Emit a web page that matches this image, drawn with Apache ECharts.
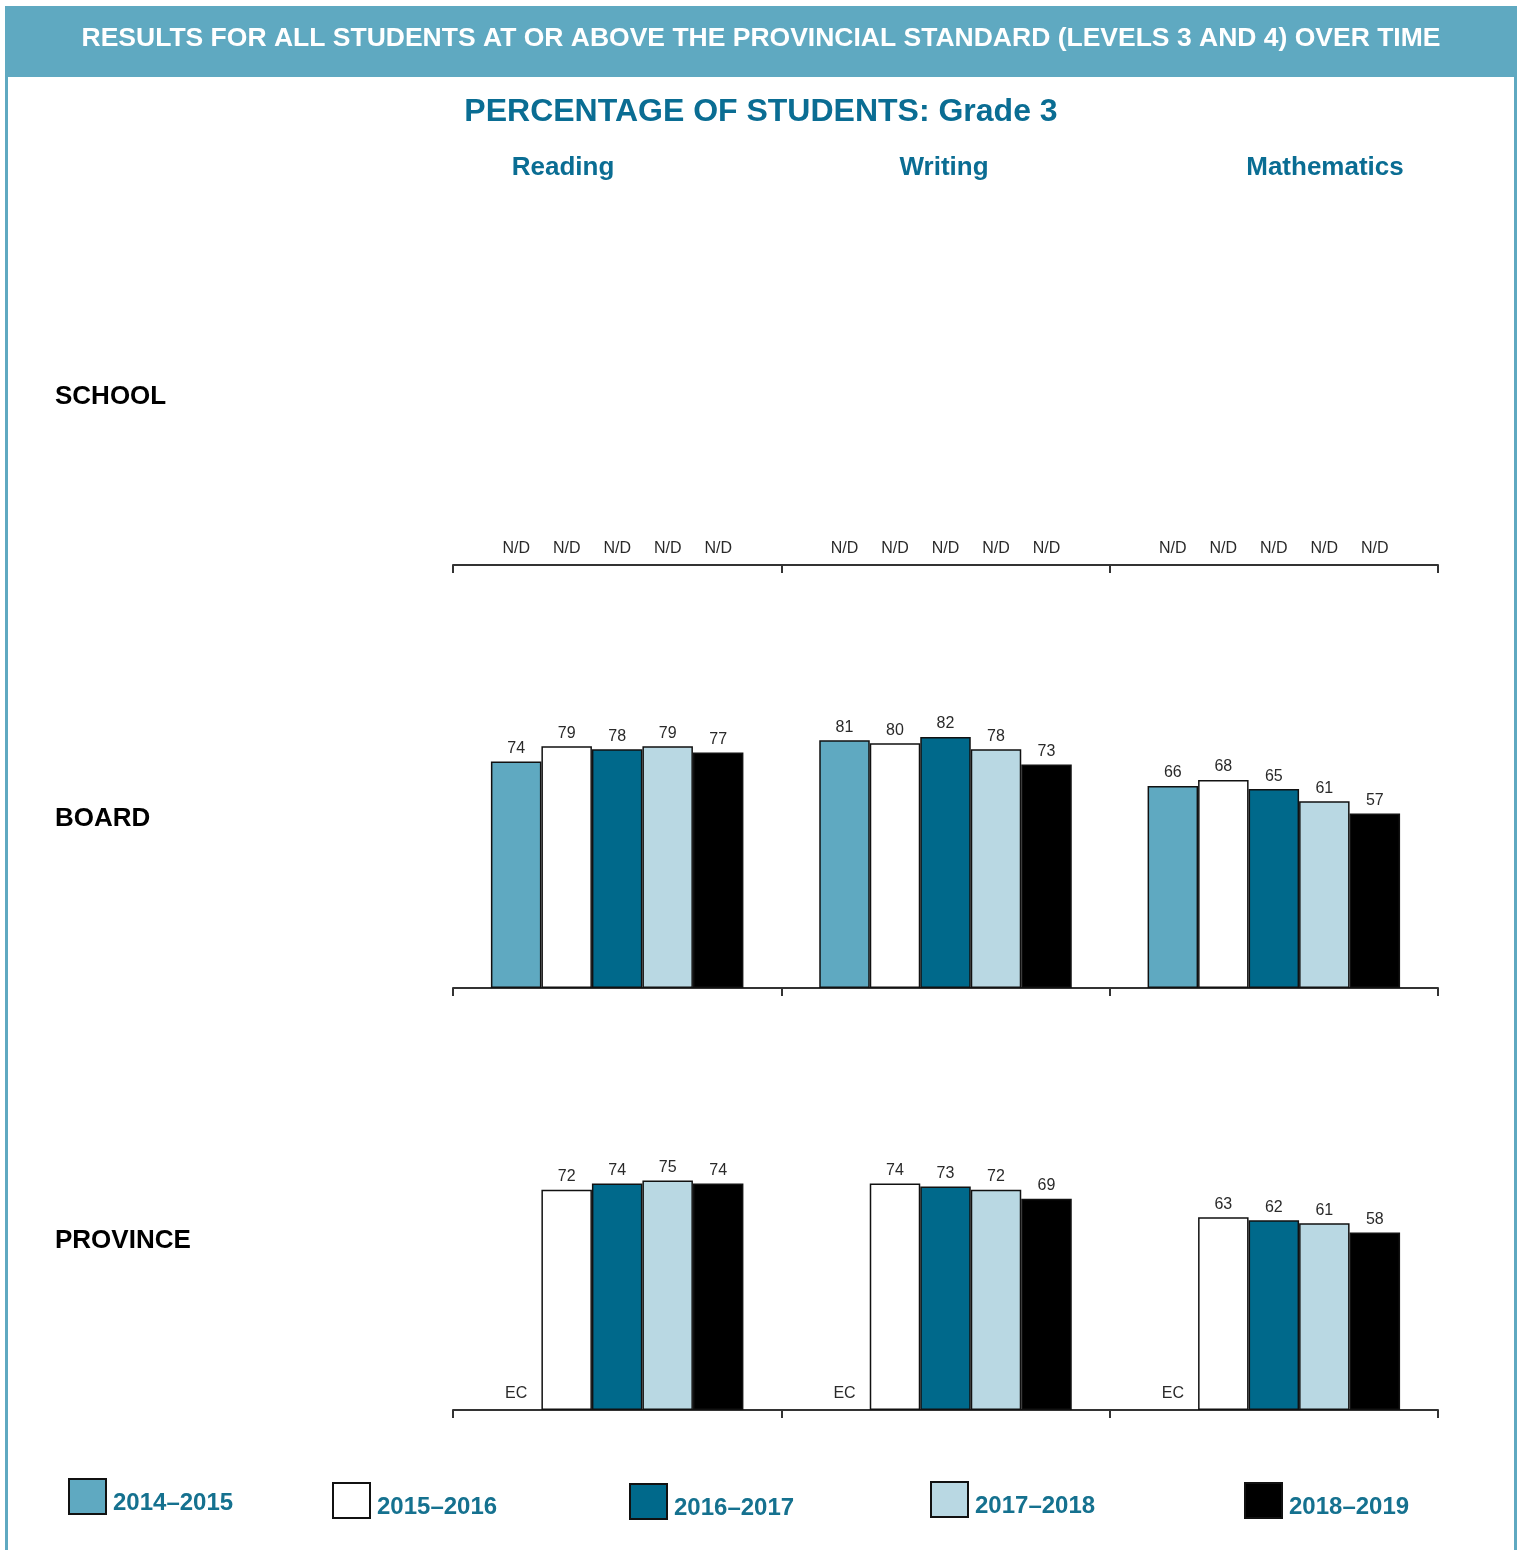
<!DOCTYPE html>
<html>
<head>
<meta charset="utf-8">
<script src="https://cdn.jsdelivr.net/npm/echarts@6/dist/echarts.min.js"></script>
<style>
  html, body { margin: 0; padding: 0; background: #fff; }
  #chart { width: 1526px; height: 1550px; }
</style>
</head>
<body>
<div id="chart"></div>
<script>
const headerText = 'RESULTS FOR ALL STUDENTS AT OR ABOVE THE PROVINCIAL STANDARD (LEVELS 3 AND 4) OVER TIME';
const chartTitle = 'PERCENTAGE OF STUDENTS: Grade 3';
const years = ['2014–2015', '2015–2016', '2016–2017', '2017–2018', '2018–2019'];
const subjects = ['Reading', 'Writing', 'Mathematics'];
const rowLabels = ['SCHOOL', 'BOARD', 'PROVINCE'];

const schoolReading = ['N/D', 'N/D', 'N/D', 'N/D', 'N/D'];
const schoolWriting = ['N/D', 'N/D', 'N/D', 'N/D', 'N/D'];
const schoolMath = ['N/D', 'N/D', 'N/D', 'N/D', 'N/D'];

const boardReading = [74, 79, 78, 79, 77];
const boardWriting = [81, 80, 82, 78, 73];
const boardMath = [66, 68, 65, 61, 57];

const provinceReading = ['EC', 72, 74, 75, 74];
const provinceWriting = ['EC', 74, 73, 72, 69];
const provinceMath = ['EC', 63, 62, 61, 58];

const yearColors = ['#5fa9c1', '#ffffff', '#00698b', '#b9d8e3', '#000000'];
const titleBlue = '#0a6d93';
const FONT = 'Arial, "Liberation Sans", sans-serif';

const rows = [
  [schoolReading, schoolWriting, schoolMath],
  [boardReading, boardWriting, boardMath],
  [provinceReading, provinceWriting, provinceMath]
];

// layout
const gridLeft = 453, gridRight = 88, gridHeight = 306;
const gridBottoms = [985, 562, 140];

function toItem(v) {
  if (typeof v === 'string') {
    return { value: 0, label: { formatter: v, distance: 8 }, itemStyle: { color: 'rgba(0,0,0,0)', borderWidth: 0 } };
  }
  return v;
}

const grids = [], xAxes = [], yAxes = [], series = [];
rows.forEach((row, r) => {
  grids.push({ left: gridLeft, right: gridRight, bottom: gridBottoms[r], height: gridHeight, containLabel: false });
  xAxes.push({
    type: 'category', gridIndex: r, data: subjects,
    axisLine: { show: true, lineStyle: { color: '#333', width: 2 } },
    axisTick: { show: true, length: 8, lineStyle: { color: '#333', width: 2 } },
    axisLabel: { show: false }, splitLine: { show: false }
  });
  yAxes.push({ type: 'value', gridIndex: r, min: 0, max: 100, show: false, splitLine: { show: false } });
  years.forEach((y, i) => {
    series.push({
      type: 'bar', name: y, xAxisIndex: r, yAxisIndex: r,
      barWidth: 50.5, barGap: '0%',
      data: row.map(arr => toItem(arr[i])),
      itemStyle: { color: yearColors[i], borderColor: '#111', borderWidth: 1.5 },
      label: { show: true, position: 'top', distance: 5, color: '#2a2a2a', fontSize: 16, fontFamily: FONT },
      emphasis: { disabled: true },
      animation: false
    });
  });
});

const legendPos = [[68, 1478], [332, 1482], [629, 1483], [930, 1481], [1244, 1482]];
const legends = years.map((y, i) => ({
  data: [{ name: y, icon: 'rect' }], left: legendPos[i][0], top: legendPos[i][1],
  itemWidth: 37, itemHeight: 35, itemGap: 0, padding: 0,
  selectedMode: false,
  itemStyle: { borderColor: '#111', borderWidth: 2 },
  formatter: '{t|{name}}',
  textStyle: {
    color: '#15718f', fontSize: 24, fontWeight: 'bold', fontFamily: FONT,
    rich: { t: { color: '#15718f', fontSize: 24, fontWeight: 'bold', fontFamily: FONT, padding: [14, 0, 0, 2] } }
  }
}));

const subjectX = [563, 944, 1325];
const graphics = [
  { type: 'rect', shape: { x: 5, y: 6, width: 1512, height: 71 }, style: { fill: '#5fa9c1' }, silent: true },
  { type: 'rect', shape: { x: 5, y: 77, width: 3, height: 1473 }, style: { fill: '#5fa9c1' }, silent: true },
  { type: 'rect', shape: { x: 1514, y: 77, width: 3, height: 1473 }, style: { fill: '#5fa9c1' }, silent: true },
  { type: 'text', x: 761, y: 39, style: { text: headerText, fill: '#fff', font: 'bold 26.5px ' + FONT, textAlign: 'center', textVerticalAlign: 'middle' }, silent: true },
  { type: 'text', x: 761, y: 112, style: { text: chartTitle, fill: titleBlue, font: 'bold 32px ' + FONT, textAlign: 'center', textVerticalAlign: 'middle' }, silent: true }
];
subjects.forEach((s, i) => {
  graphics.push({ type: 'text', x: subjectX[i], y: 168, style: { text: s, fill: titleBlue, font: 'bold 26px ' + FONT, textAlign: 'center', textVerticalAlign: 'middle' }, silent: true });
});
const rowLabelY = [397, 819, 1241];
rowLabels.forEach((s, i) => {
  graphics.push({ type: 'text', x: 55, y: rowLabelY[i], style: { text: s, fill: '#000', font: 'bold 26px ' + FONT, textAlign: 'left', textVerticalAlign: 'middle' }, silent: true });
});

const chart = echarts.init(document.getElementById('chart'), null, { renderer: 'canvas' });
chart.setOption({
  animation: false,
  backgroundColor: '#fff',
  grid: grids, xAxis: xAxes, yAxis: yAxes, series: series,
  legend: legends,
  tooltip: { show: false },
  graphic: graphics
});
</script>
</body>
</html>
